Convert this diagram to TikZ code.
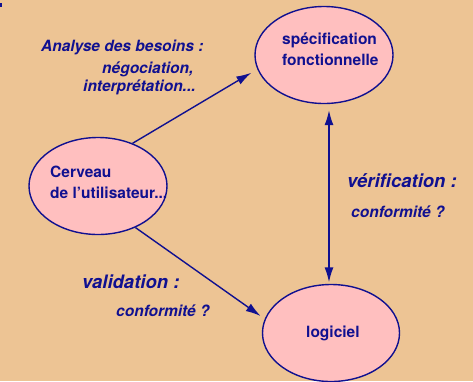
\documentclass[tikz,border=0pt]{standalone}
\usepackage{fontspec}
\setmainfont{TeX Gyre Heros}
\usetikzlibrary{arrows.meta,shapes.geometric}
\definecolor{bgtan}{HTML}{EDC494}
\definecolor{navy}{HTML}{101090}
\definecolor{pinkfill}{HTML}{FFBFBF}
\tikzset{
  bubble/.style={ellipse, draw=navy, fill=pinkfill, line width=1.4pt,
    minimum width=138pt, minimum height=97pt, inner sep=0pt},
  label/.style={font=\bfseries\fontsize{15.5}{20}\selectfont, text=navy, inner sep=0pt, anchor=base west},
  note/.style={font=\bfseries\itshape\fontsize{15.5}{19}\selectfont, text=navy, inner sep=0pt, anchor=base west},
  bignote/.style={note, font=\bfseries\itshape\fontsize{18.5}{22}\selectfont},
  tip/.tip={Latex[length=15pt,width=9pt]},
  link/.style={draw=navy, line width=1.4pt, -tip},
  dlink/.style={draw=navy, line width=1.4pt, tip-tip}
}
\begin{document}
\begin{tikzpicture}[x=1pt,y=-1pt]
  \fill[bgtan] (0,0) rectangle (473,381);
  \useasboundingbox (0,0) rectangle (473,381);
  \fill[navy] (0,2.7) rectangle (1.7,6.7);

  % the three bubbles
  \node[bubble] (spec) at (324,55) {};
  \node[bubble] (brain) at (98,186) {};
  \node[bubble, minimum width=137pt] (soft) at (331,333) {};

  % their texts
  \node[label] (spec1) at (282,44) {spécification};
  \node[label] (spec2) at (282,65) {fonctionnelle};
  \node[label] (brain1) at (50,177) {Cerveau};
  \node[label] (brain2) at (50,198) {de l’utilisateur...};
  \node[label] (soft1) at (306,337) {logiciel};

  % connectors
  \coordinate (vx) at (329,0);
  \draw[link, shorten >=7pt] (brain.51.7) -- (spec.192.4);
  \draw[link, shorten >=5pt] (brain.-48.4) -- (soft.168);
  \draw[dlink, shorten <=6pt, shorten >=1.5pt] (spec.south -| vx) -- (soft.north -| vx);

  % annotations
  \node[note] (l1) at (41,51) {Analyse des besoins :};
  \node[note] (l2) at (102,73) {négociation,};
  \node[note] (l3) at (83,91) {interprétation...};
  \node[bignote] (l4) at (347,187) {vérification :};
  \node[note] (l5) at (351,217) {conformité ?};
  \node[bignote] (l6) at (82,288) {validation :};
  \node[note] (l7) at (116,316) {conformité ?};
\end{tikzpicture}
\end{document}
